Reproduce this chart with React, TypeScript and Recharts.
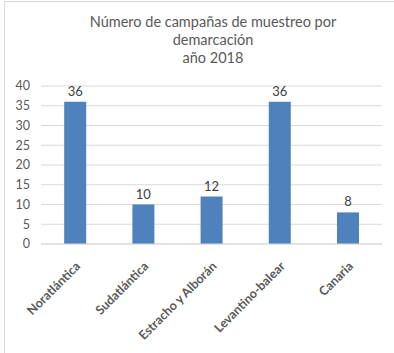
import React from 'react';
import { BarChart, Bar, XAxis, YAxis, CartesianGrid, LabelList } from 'recharts';

const categories = ['Noratlántica', 'Sudatlántica', 'Estracho y Alborán', 'Levantino-balear', 'Canaria'];
const campaigns = [36, 10, 12, 36, 8];
const yTicks = [0, 5, 10, 15, 20, 25, 30, 35, 40];
const titleLines = ['Número de campañas de muestreo por', 'demarcación', 'año 2018'];

const data = categories.map((name, i) => ({ name, value: campaigns[i] }));

const FONT = 'Lato, "Open Sans", sans-serif';

const RotatedTick = (props: any) => {
  const { x, y, payload } = props;
  return (
    <g transform={`translate(${x + 6},${y + 15})`}>
      <text
        textAnchor="end"
        transform="rotate(-45)"
        fill="#595959"
        fontSize={12.5}
        fontWeight={700}
        fontFamily={FONT}
      >
        {payload.value}
      </text>
    </g>
  );
};

export default function App() {
  return (
    <div style={{ position: 'absolute', left: 0, top: 0, width: 394, height: 353, background: '#fff', fontFamily: FONT }}>
      {/* chart frame */}
      <div style={{ position: 'absolute', left: 4, top: 1, width: 400, height: 360, borderLeft: '1px solid #d9d9d9', borderTop: '1px solid #d9d9d9' }} />
      <div style={{ position: 'absolute', left: 0, top: 13, width: 426, textAlign: 'center', color: '#595959', fontSize: 14.5, lineHeight: '18px' }}>
        {titleLines.map((t) => (
          <div key={t}>{t}</div>
        ))}
      </div>
      <div style={{ position: 'absolute', left: 0, top: 0 }}>
        <BarChart
          width={394}
          height={353}
          data={data}
          margin={{ top: 86, right: 12, left: 0, bottom: 0 }}
          barCategoryGap="34%"
        >
          <CartesianGrid vertical={false} stroke="#d9d9d9" />
          <XAxis
            dataKey="name"
            axisLine={{ stroke: '#d9d9d9' }}
            tickLine={false}
            interval={0}
            height={109}
            tick={<RotatedTick />}
          />
          <YAxis
            width={41}
            domain={[0, 40]}
            ticks={yTicks}
            interval={0}
            axisLine={false}
            tickLine={false}
            tickMargin={5}
            tick={{ fill: '#595959', fontSize: 12.5, fontFamily: FONT }}
          />
          <Bar dataKey="value" fill="#4f81bd" isAnimationActive={false}>
            <LabelList dataKey="value" position="top" offset={6} fill="#404040" fontSize={13} fontFamily={FONT} />
          </Bar>
        </BarChart>
      </div>
    </div>
  );
}
